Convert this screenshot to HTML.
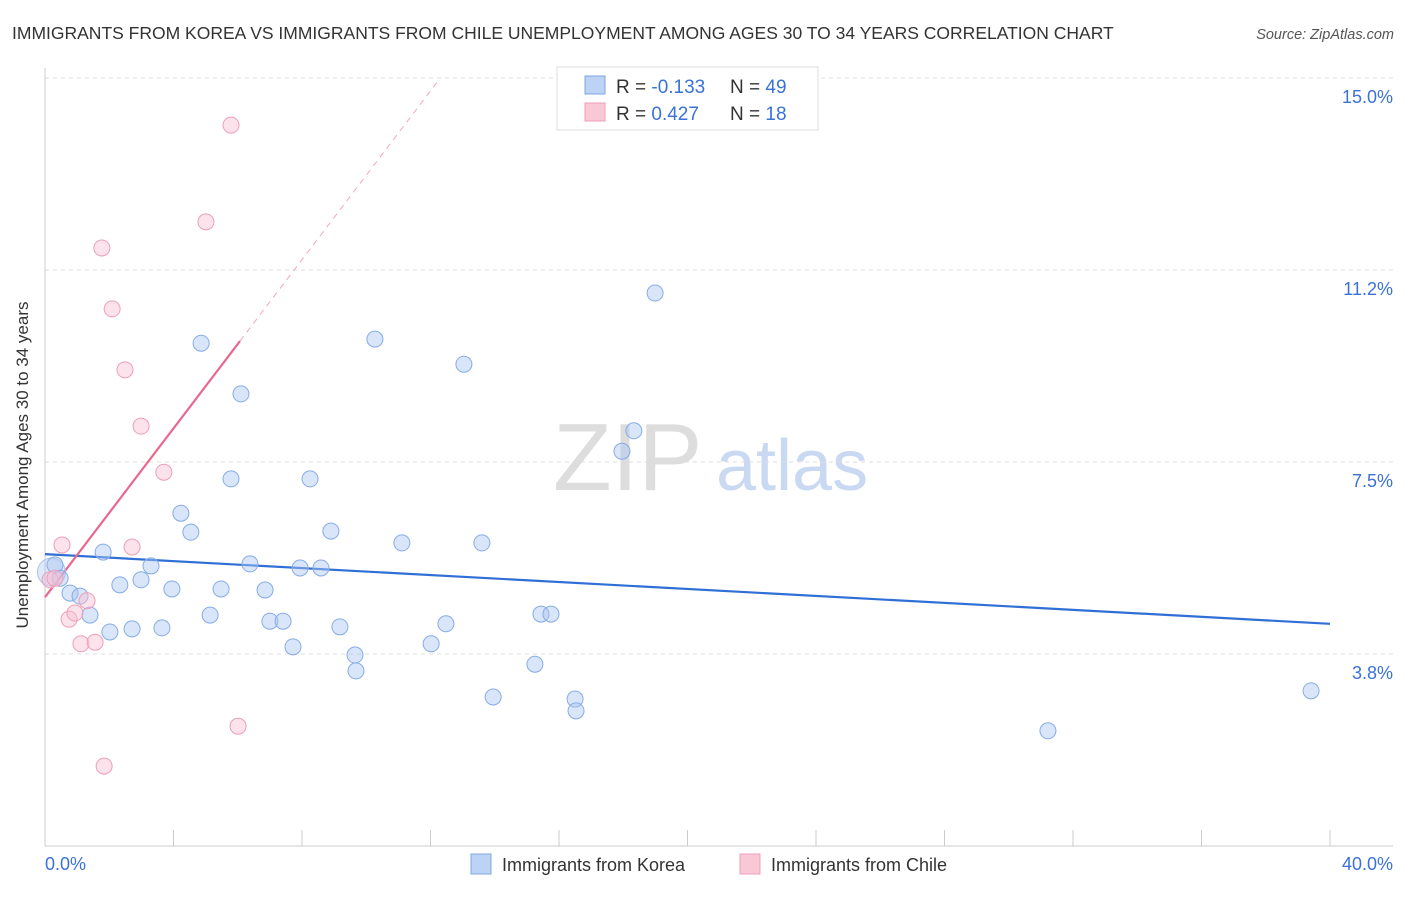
<!DOCTYPE html>
<html><head><meta charset="utf-8">
<style>
body{margin:0;background:#fff;font-family:"Liberation Sans",sans-serif;}
svg text{font-family:"Liberation Sans",sans-serif;}
</style></head>
<body>
<svg id="chart" width="1406" height="892" xmlns="http://www.w3.org/2000/svg">
<text x="12" y="39" font-size="17.5" fill="#333">IMMIGRANTS FROM KOREA VS IMMIGRANTS FROM CHILE UNEMPLOYMENT AMONG AGES 30 TO 34 YEARS CORRELATION CHART</text>
<text x="1394" y="39" font-size="14.5" fill="#555" font-style="italic" text-anchor="end">Source: ZipAtlas.com</text>
<g>
<text x="553" y="490" font-size="96" font-family="Liberation Serif" fill="#ddd">ZIP</text>
<text x="716" y="490" font-size="72" fill="#c9d9f2">atlas</text>
</g>
<g id="grid"></g>
<g id="axes"></g>
<g id="trends"></g>
<g id="points"></g>
<text x="18" y="455" font-size="17" fill="#333" text-anchor="middle" transform="rotate(-90 28 455)">Unemployment Among Ages 30 to 34 years</text>
<g>
<rect x="557" y="67" width="261" height="63" fill="#fff" stroke="#ddd"/>
<rect x="585" y="76" width="20" height="18" fill="#bcd3f5" stroke="#7fa6e0"/>
<rect x="585" y="103" width="20" height="18" fill="#f9c8d7" stroke="#ee9fb8"/>
<text x="616" y="93" font-size="19" fill="#333">R = <tspan fill="#3a72d8">-0.133</tspan></text>
<text x="730" y="93" font-size="19" fill="#333">N = <tspan fill="#3a72d8">49</tspan></text>
<text x="616" y="120" font-size="19" fill="#333">R = <tspan fill="#3a72d8"> 0.427</tspan></text>
<text x="730" y="120" font-size="19" fill="#333">N = <tspan fill="#3a72d8"> 18</tspan></text>
</g>
<g>
<rect x="471" y="854" width="20" height="20" fill="#bcd3f5" stroke="#7fa6e0"/>
<text x="502" y="871" font-size="18" fill="#333">Immigrants from Korea</text>
<rect x="740" y="854" width="20" height="20" fill="#f9c8d7" stroke="#ee9fb8"/>
<text x="771" y="871" font-size="18" fill="#333">Immigrants from Chile</text>
</g>
</svg>
<script>
const koreaX=[0.31,0.47,0.78,1.09,1.40,1.81,2.02,2.33,2.71,2.99,3.30,3.64,3.95,4.23,4.54,4.86,5.14,5.48,5.79,6.10,6.38,6.85,7.00,7.41,7.72,7.94,8.25,8.59,8.90,9.18,9.65,9.68,10.27,11.11,12.02,12.48,13.04,13.60,13.95,15.25,15.44,15.75,16.50,16.53,17.96,18.33,18.99,31.22,39.41];
const koreaY=[5.49,5.23,4.94,4.88,4.51,5.74,4.18,5.10,4.24,5.20,5.47,4.26,5.02,6.50,6.13,9.82,4.51,5.02,7.17,8.83,5.51,5.00,4.39,4.39,3.89,5.43,7.17,5.43,6.15,4.28,3.73,3.42,9.90,5.92,3.95,4.34,9.41,5.92,2.91,3.55,4.53,4.53,2.87,2.64,7.71,8.11,10.80,2.25,3.03];
const chileX=[0.16,0.31,0.53,0.75,0.93,1.12,1.31,1.56,1.77,1.84,2.09,2.49,2.71,2.99,3.70,5.01,5.79,6.01];
const chileY=[5.20,5.23,5.88,4.43,4.55,3.95,4.79,3.98,11.68,1.56,10.49,9.30,5.84,8.20,7.30,12.19,14.08,2.34];
const yTicks=[3.8,7.5,11.2,15.0];
const yTickLabels=["3.8%","7.5%","11.2%","15.0%"];
const yTickVals=[3.75,7.5,11.25,15.0];
const xTickLabels=["0.0%","40.0%"];
const koreaTrend=[5.70,4.34];
const chileTrend=[4.86,0.824];
const NS="http://www.w3.org/2000/svg";
const sx=v=>45+v*32.125, sy=v=>846-v*51.2;
function mk(tag,attrs,parent){const e=document.createElementNS(NS,tag);for(const k in attrs)e.setAttribute(k,attrs[k]);parent.appendChild(e);return e;}
const grid=document.getElementById('grid'),axes=document.getElementById('axes'),tr=document.getElementById('trends'),pts=document.getElementById('points');
yTickVals.forEach((v,i)=>{
 const l=mk('line',{x1:45,x2:1393,y1:sy(v),y2:sy(v),stroke:'#ddd','stroke-dasharray':'4,4'},grid);
 
 
 const t=mk('text',{x:1393,y:sy(v)+25,'font-size':18,fill:'#3a72d8','text-anchor':'end'},axes);
 t.textContent=yTickLabels[i];
 
 
});
mk('line',{x1:45,x2:45,y1:68,y2:846,stroke:'#ccc'},axes);
mk('line',{x1:45,x2:1393,y1:846,y2:846,stroke:'#ccc'},axes);
for(let i=0;i<=10;i++){const tk=mk('line',{x1:sx(i*4),x2:sx(i*4),y1:830,y2:846,stroke:'#ccc'},axes);
 
 }
const xl0=mk('text',{x:45,y:870,'font-size':18,fill:'#3a72d8'},axes);xl0.textContent=xTickLabels[0];


const xl1=mk('text',{x:1393,y:870,'font-size':18,fill:'#3a72d8','text-anchor':'end'},axes);xl1.textContent=xTickLabels[1];


// big point
mk('circle',{cx:sx(0.2),cy:sy(5.35),r:14,fill:'rgba(170,198,240,0.4)',stroke:'#a9c4ee'},pts);
koreaX.forEach((x,i)=>{const c=mk('circle',{cx:sx(x),cy:sy(koreaY[i]),r:8,fill:'rgba(170,198,240,0.45)',stroke:'#86ace6','stroke-width':1},pts);
 
 });
chileX.forEach((x,i)=>{const c=mk('circle',{cx:sx(x),cy:sy(chileY[i]),r:8,fill:'rgba(248,190,210,0.45)',stroke:'#ee9fb8','stroke-width':1},pts);
 
 });
const kl=mk('line',{x1:sx(0),y1:sy(koreaTrend[0]),x2:sx(40),y2:sy(koreaTrend[1]),stroke:'#2f6fd6','stroke-width':2.2},tr);


const cEnd=6.07, cTop=(15-chileTrend[0])/chileTrend[1];
const cl=mk('line',{x1:sx(0),y1:sy(chileTrend[0]),x2:sx(cEnd),y2:sy(chileTrend[0]+chileTrend[1]*cEnd),stroke:'#e8688f','stroke-width':2.2},tr);


const cd=mk('line',{x1:sx(cEnd),y1:sy(chileTrend[0]+chileTrend[1]*cEnd),x2:sx(cTop),y2:sy(15),stroke:'#f0a8bd','stroke-width':1,'stroke-dasharray':'6,5'},tr);


</script>
</body></html>
